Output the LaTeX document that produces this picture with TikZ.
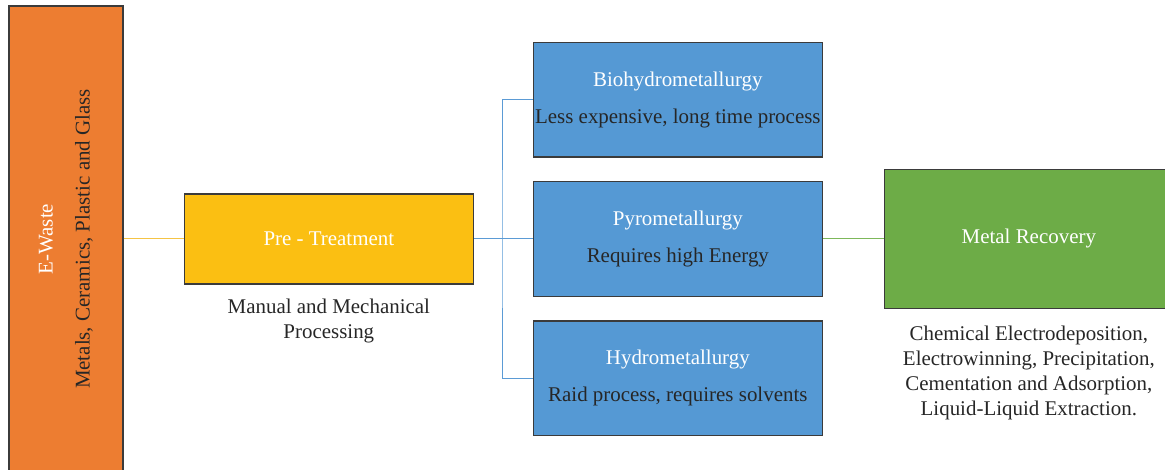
\documentclass[tikz,border=0pt]{standalone}
\usepackage{fontspec}
\setmainfont{Liberation Serif}
\usetikzlibrary{positioning}

\definecolor{wasteorange}{HTML}{ED7D31}
\definecolor{pregold}{HTML}{FBBF12}
\definecolor{methodblue}{HTML}{5599D4}
\definecolor{recgreen}{HTML}{6DAC47}
\definecolor{boxline}{HTML}{3B3B3B}
\definecolor{txtdark}{HTML}{262626}
\definecolor{yellowline}{HTML}{F5C445}
\definecolor{blueline}{HTML}{5B9BD5}
\definecolor{greenline}{HTML}{7DB85A}

\begin{document}
\begin{tikzpicture}[node distance=17.5pt,line width=0.75pt,
    every node/.style={font=\fontsize{15.7}{18.75}\selectfont,text=txtdark}]
    \tikzstyle{box}=[draw=boxline,line width=1pt,inner sep=1pt,align=center]
    \tikzstyle{method}=[box,fill=methodblue,minimum width=216.75pt,minimum height=86pt]
    \tikzstyle{note}=[inner sep=0pt,align=center]

    \useasboundingbox (-49.5pt,-173.25pt) rectangle (824.25pt,179.25pt);

    \node[box,fill=wasteorange,minimum width=85.5pt,minimum height=349.5pt] (waste) at (0,0) {};
    \node[note,rotate=90] (wastetext) at (waste) {\textcolor{white}{E-Waste}\\[9pt]Metals, Ceramics, Plastic and Glass};

    \node[box,fill=pregold,minimum width=216.75pt,minimum height=67.5pt] (pre) [right=45pt of waste] {\textcolor{white}{Pre - Treatment}};
    \node[note] (prenote) [below=10.5pt of pre] {Manual and Mechanical\\Processing};

    \node[method] (pyro)  [right=44pt of pre] {\textcolor{white}{Pyrometallurgy}\\[9pt]Requires high Energy};
    \node[method] (bio)   [above=of pyro]      {\textcolor{white}{Biohydrometallurgy}\\[9pt]Less expensive, long time process};
    \node[method] (hydro) [below=of pyro]      {\textcolor{white}{Hydrometallurgy}\\[9pt]Raid process, requires solvents};

    \node[box,fill=recgreen,minimum width=216.75pt,minimum height=104.25pt] (metal) [right=45.5pt of pyro] {\textcolor{white}{Metal Recovery}};
    \node[note] (metalnote) [below=12pt of metal] {Chemical Electrodeposition,\\Electrowinning, Precipitation,\\Cementation and Adsorption,\\Liquid-Liquid Extraction.};

    \coordinate[right=21pt of pre.east] (split);

    \draw[yellowline] (waste.east) -- (pre.west);
    \draw[blueline]   (pre.east) -- (pyro.west);
    \draw[blueline]   (bio.west) -| (split) |- (hydro.west);
    \draw[greenline]  (pyro.east) -- (metal.west);
\end{tikzpicture}
\end{document}
